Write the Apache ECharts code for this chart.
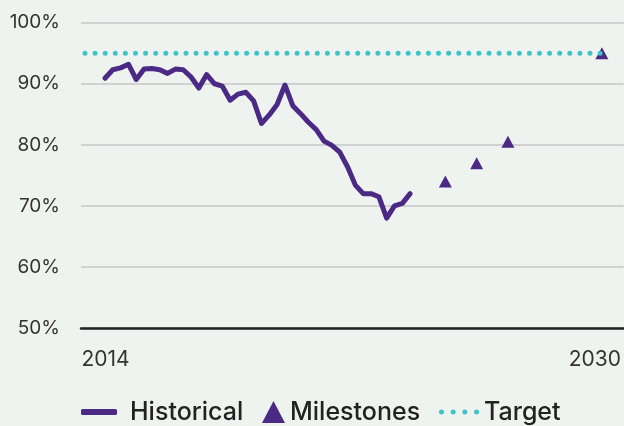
<!DOCTYPE html>
<html>
<head>
<meta charset="utf-8">
<script src="https://cdn.jsdelivr.net/npm/echarts@6/dist/echarts.min.js"></script>
</head>
<body style="margin:0;background:#eff3f0">
<div id="container" style="width:624px;height:426px"></div>
<script>
// quarterly history, 2014 Q1 .. 2023 Q4 (percent)
var histStart = 2014;
var historical = [90.9, 92.3, 92.6, 93.2, 90.7, 92.4, 92.5, 92.3, 91.7, 92.4,
                  92.3, 91.1, 89.3, 91.5, 90.0, 89.6, 87.3, 88.3, 88.6, 87.2,
                  83.5, 84.9, 86.6, 89.8, 86.4, 85.1, 83.7, 82.5, 80.6, 79.9,
                  78.8, 76.4, 73.4, 72.0, 72.0, 71.5, 68.0, 70.0, 70.4, 72.0];
var milestoneYears = [2025, 2026, 2027, 2030];
var milestoneValues = [74, 77, 80.5, 95];
var targetValue = 95;
var targetEnd = 2030;
var xLabels = [2014, 2030];

var purple = '#4b2a86';
var teal = '#3fc3c8';
var font = 'Inter, "Noto Sans", sans-serif';
var xMin = 2013.36, xMax = 2030.7;

var histData = historical.map(function (v, i) {
    return [histStart + (i + 0.5) / 4, v];
});
var milestoneData = milestoneYears.map(function (y, i) {
    return [y, milestoneValues[i]];
});
var targetData = [[xMin, targetValue], [targetEnd, targetValue]];

var legendText = { fontSize: 25, color: '#222', fontFamily: font, fontWeight: 500 };

var myChart = echarts.init(document.getElementById('container'));
var option = {
    backgroundColor: '#eff3f0',
    animation: false,
    grid: { left: 81, right: 0, top: 22.7, bottom: 98 },
    xAxis: {
        type: 'value',
        min: xMin,
        max: xMax,
        splitLine: { show: false },
        axisTick: { show: false },
        axisLine: { show: true, lineStyle: { color: '#222', width: 2.5 } },
        axisLabel: {
            customValues: xLabels,
            margin: 21,
            fontSize: 21,
            color: '#333',
            fontFamily: font,
            formatter: function (v) {
                return v === 2014 ? '{a|2014}' : '{b|' + v + '}';
            },
            rich: {
                a: { fontSize: 21, color: '#333', fontFamily: font, padding: [0, 0, 0, 9] },
                b: { fontSize: 21, color: '#333', fontFamily: font, padding: [0, 14, 0, 0] }
            }
        }
    },
    yAxis: {
        type: 'value',
        min: 50,
        max: 100,
        interval: 10,
        axisLine: { show: false },
        axisTick: { show: false },
        splitLine: { lineStyle: { color: '#c6c6c6', width: 1.5 } },
        axisLabel: {
            formatter: '{value}%',
            margin: 21,
            fontSize: 19,
            color: '#333',
            fontFamily: font
        }
    },
    legend: [{
        data: [{ name: 'Historical', icon: 'roundRect' }],
        left: 81, top: 399.5, padding: 0,
        itemWidth: 36, itemHeight: 6,
        textStyle: Object.assign({ padding: [0, 0, 0, 8] }, legendText)
    }, {
        data: [{ name: 'Milestones', icon: 'triangle' }],
        left: 262, top: 399.5, padding: 0,
        itemWidth: 23, itemHeight: 22,
        textStyle: legendText
    }, {
        data: [{
            name: 'Target',
            icon: 'path://M0,2.5a2.5,2.5 0 1,0 5,0a2.5,2.5 0 1,0 -5,0z' +
                  'M11.67,2.5a2.5,2.5 0 1,0 5,0a2.5,2.5 0 1,0 -5,0z' +
                  'M23.33,2.5a2.5,2.5 0 1,0 5,0a2.5,2.5 0 1,0 -5,0z' +
                  'M35,2.5a2.5,2.5 0 1,0 5,0a2.5,2.5 0 1,0 -5,0z'
        }],
        left: 439, top: 399.5, padding: 0,
        itemWidth: 40, itemHeight: 5,
        textStyle: legendText
    }],
    series: [{
        name: 'Target',
        type: 'line',
        data: targetData,
        showSymbol: false,
        color: teal,
        lineStyle: { color: teal, width: 5, type: [0, 10.1], dashOffset: 6.1, cap: 'round' }
    }, {
        name: 'Historical',
        type: 'line',
        data: histData,
        showSymbol: false,
        color: purple,
        lineStyle: { color: purple, width: 5, join: 'round', cap: 'round' }
    }, {
        name: 'Milestones',
        type: 'scatter',
        data: milestoneData,
        symbol: 'triangle',
        symbolSize: [13, 12],
        color: purple,
        itemStyle: { color: purple, opacity: 1 }
    }]
};
myChart.setOption(option);
</script>
</body>
</html>
